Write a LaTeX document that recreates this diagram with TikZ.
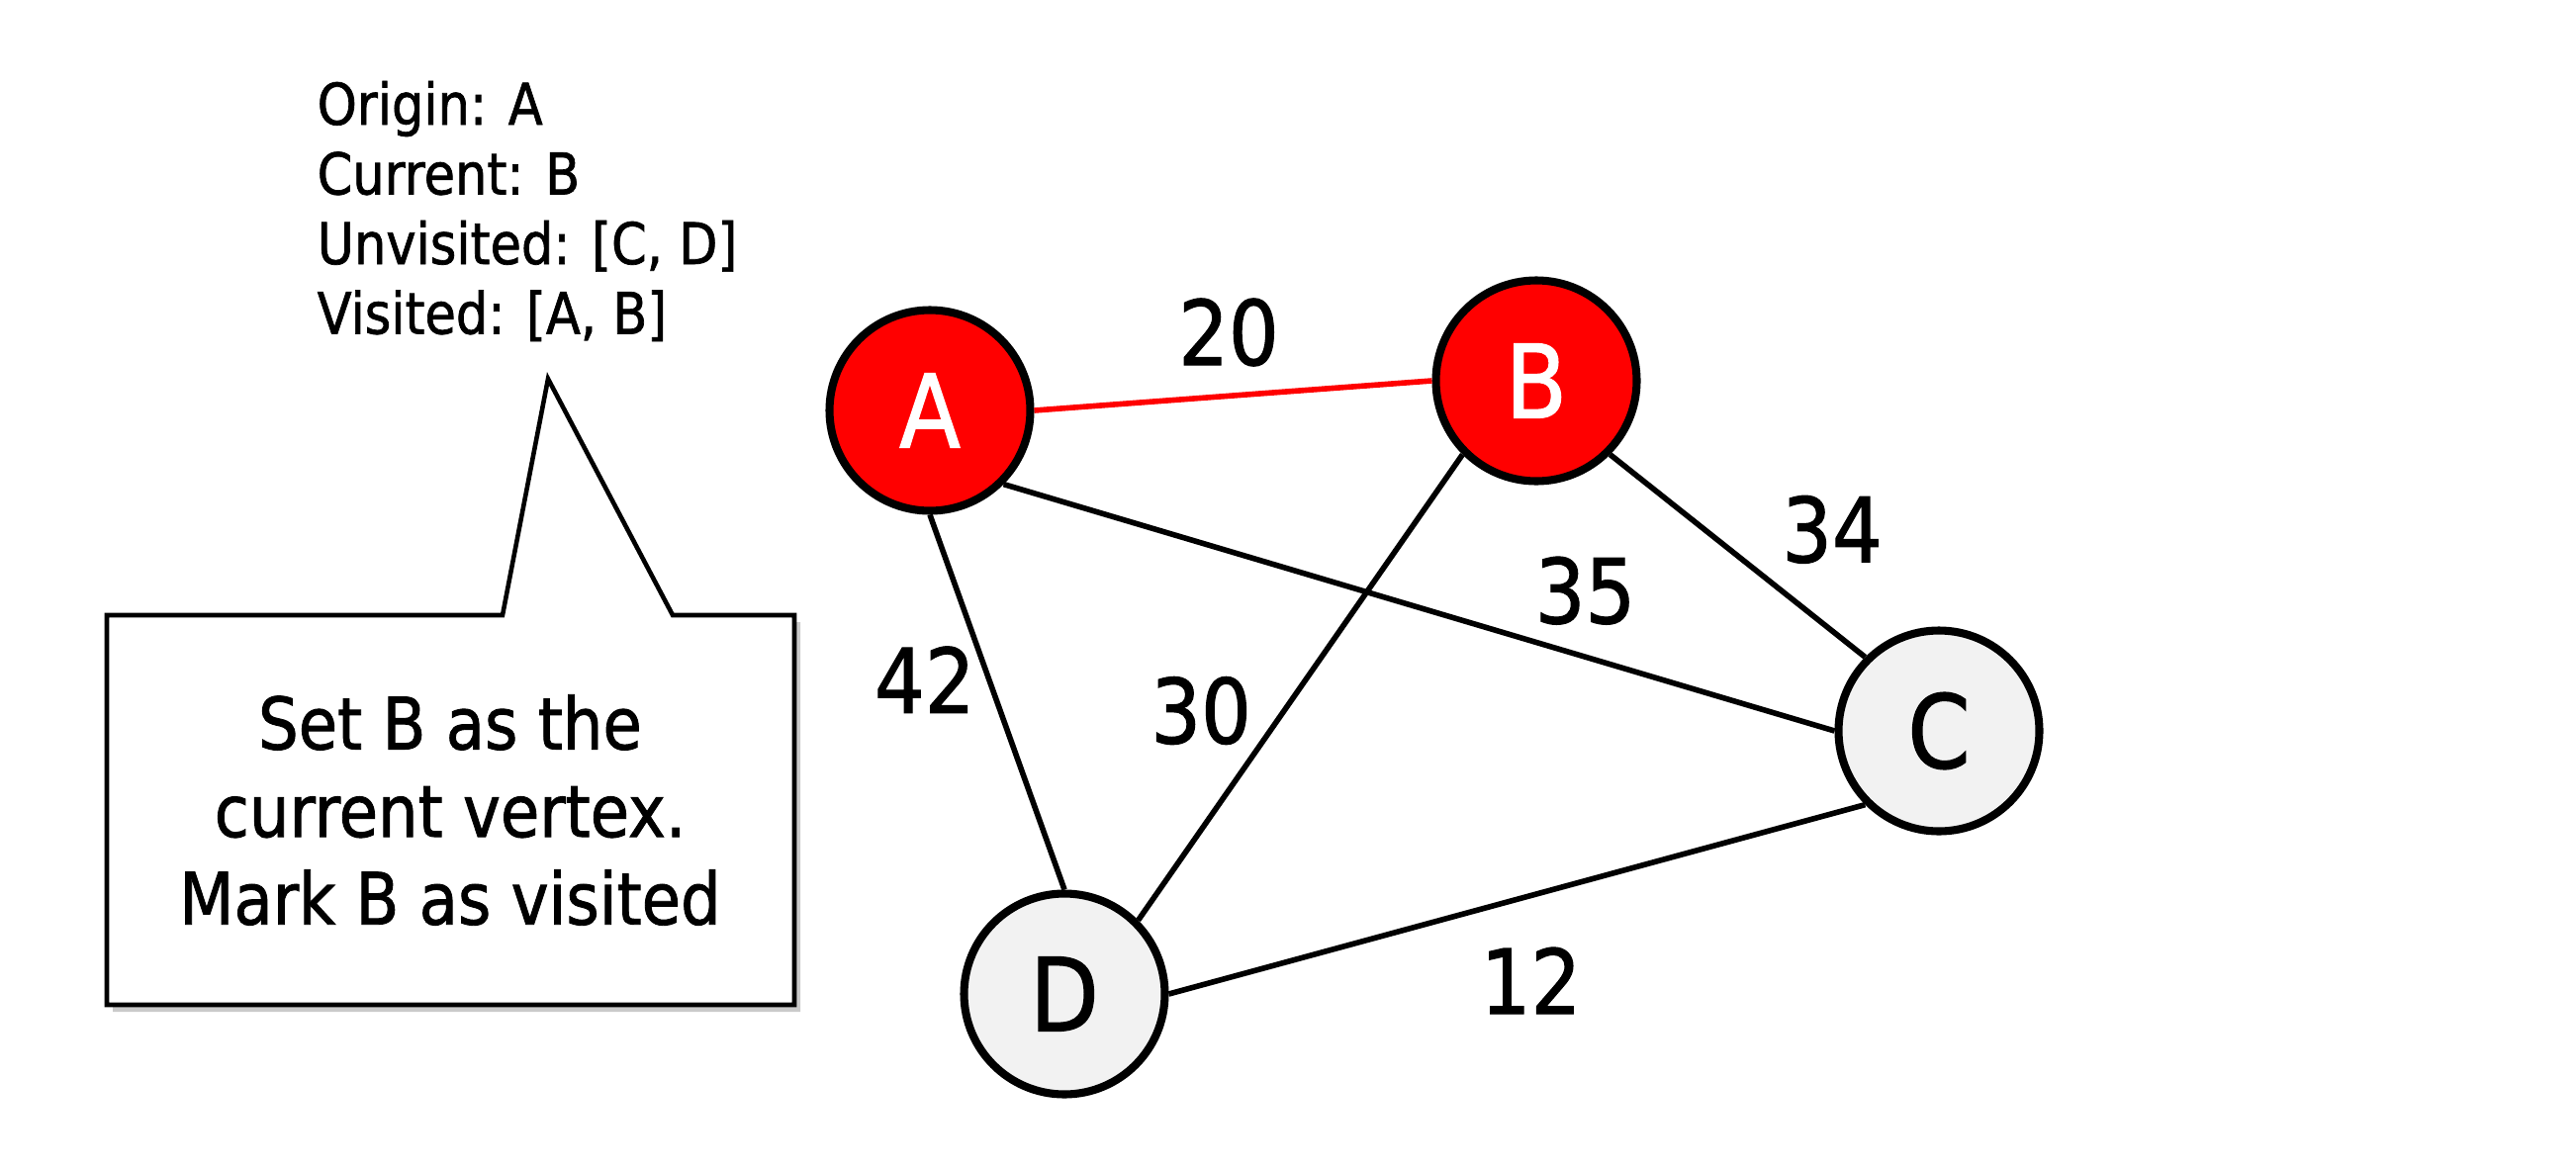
\documentclass[tikz,border=0pt]{standalone}
\usepackage{fontspec}
\setmainfont{DejaVu Sans}[FakeStretch=0.88, FakeBold=1.2]
\usetikzlibrary{shadows}
\definecolor{visitred}{RGB}{255,0,0}
\definecolor{unvisitgray}{RGB}{242,242,242}

\begin{document}
\begin{tikzpicture}[
    vertex/.style={circle, draw=black, line width=2.3pt, minimum size=2.03cm, inner sep=0pt, font=\fontsize{29.3}{35}\selectfont},
    visited/.style={vertex, fill=visitred, text=white},
    unvisited/.style={vertex, fill=unvisitgray},
    edge/.style={line width=1.6pt},
    weight/.style={inner sep=0pt, text=black, font=\fontsize{25.8}{31}\selectfont},
    info/.style={anchor=base west, inner sep=0pt, font=\fontsize{16.5}{20}\selectfont},
]
    \useasboundingbox (0,0) rectangle (26.04,11.82);

    % state of the walk
    \node (origin) at (3.20,10.56) [info] {Origin: A};
    \node (current) at (3.20,9.855) [info] {Current: B};
    \node (unvisited) at (3.20,9.15) [info] {Unvisited: [C, D]};
    \node (visited) at (3.20,8.445) [info] {Visited: [A, B]};

    % speech bubble
    \draw[line width=1.3pt, fill=white, drop shadow={shadow xshift=0.06cm, shadow yshift=-0.07cm, opacity=0.35, fill=black!60}]
        (1.08,5.60) -- (5.08,5.60) -- (5.54,7.99) -- (6.80,5.60) -- (8.03,5.60) -- (8.03,1.66) -- (1.08,1.66) -- cycle;
    \node (note) at (4.55,3.63) [align=center, inner sep=0pt, font=\fontsize{20.7}{25.2}\selectfont] {Set B as the\\current vertex.\\Mark B as visited};

    % graph
    \node (A) at ( 9.40, 7.67) [visited] {A};
    \node (B) at (15.53, 7.97) [visited] {B};
    \node (C) at (19.60, 4.43) [unvisited] {C};
    \node (D) at (10.76, 1.77) [unvisited] {D};

    \draw[edge, visitred] (A.east) -- node[weight, midway, xshift=-0.045cm, yshift=0.64cm] {20} (B.west);
    \draw[edge] (A.south east) -- node[weight, pos=.7, yshift=0.67cm] {35} (C.west);
    \draw[edge] (A.south) -- node[weight, pos=.44, xshift=-0.65cm] {42} (D.north);
    \draw[edge] (B.south west) -- node[weight, pos=.55, xshift=-0.84cm] {30} (D.north east);
    \draw[edge] (B.south east) -- node[weight, pos=.37, xshift=1.29cm] {34} (C.north west);
    \draw[edge] (C.south west) -- node[weight, pos=.48, yshift=-0.86cm] {12} (D.east);
\end{tikzpicture}
\end{document}
